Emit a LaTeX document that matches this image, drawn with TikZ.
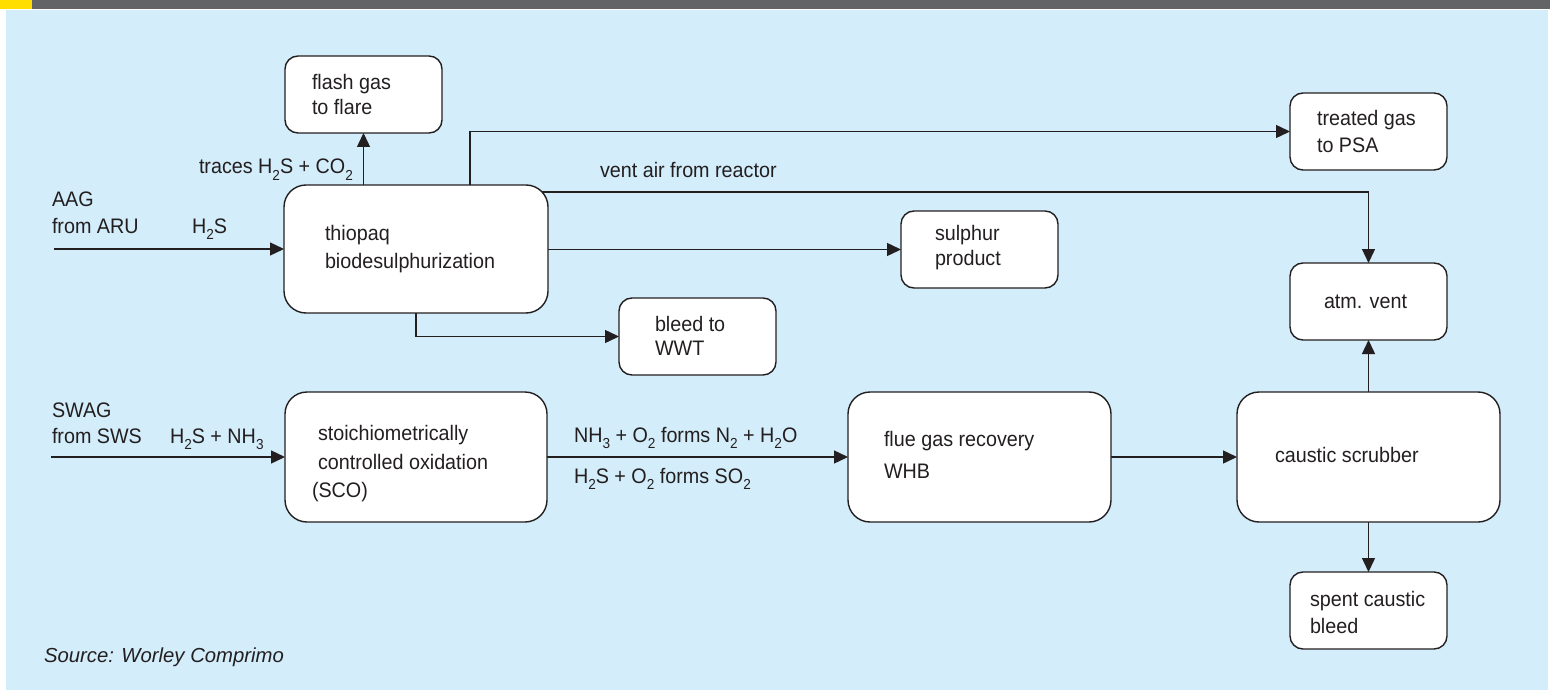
\documentclass[tikz,border=0pt]{standalone}
\usepackage{fontspec}
\setmainfont{Liberation Sans}[FakeStretch=0.94]
\newfontfamily\plainsans{Liberation Sans}
\usetikzlibrary{arrows.meta}
\definecolor{bgblue}{RGB}{211,237,250}
\definecolor{bargray}{RGB}{99,100,102}
\definecolor{baryellow}{RGB}{255,222,0}
\definecolor{ink}{RGB}{35,31,32}
\newcommand\sbs[1]{\raisebox{-6pt}{\fontsize{14.5}{14.5}\selectfont #1}}
\pgfdeclarelayer{bg}\pgfdeclarelayer{lines}\pgfsetlayers{bg,lines,main}
\tikzset{
 sbox/.style={draw=ink, fill=white, line width=1.4pt, rounded corners=13pt, minimum width=157pt, minimum height=77pt, inner sep=0pt, outer sep=0pt, anchor=north west},
 bbox/.style={sbox, rounded corners=22pt, minimum width=263pt, minimum height=130pt},
 txt/.style={anchor=base west, inner sep=0pt, outer sep=0pt, text=ink, font=\fontsize{21}{24}\selectfont},
 itxt/.style={txt, font=\plainsans\fontsize{20.3}{24}\selectfont\itshape},
 flow/.style={draw=ink, line width=1.4pt, -{Triangle[length=14pt,width=13pt]}},
}
\begin{document}
\begin{tikzpicture}[x=1pt,y=-1pt]
\useasboundingbox (0,0) rectangle (1550,690);
\begin{pgfonlayer}{bg}
\fill[white] (0,0) rectangle (1550,690);
\fill[bgblue] (6,10) rectangle (1548,690);
\fill[bargray] (0,0) rectangle (1550,9.5);
\fill[baryellow] (0,0) rectangle (32,9.5);
\end{pgfonlayer}

% boxes
\node[sbox] (flash) at (285,56) {};
\node[sbox] (treated) at (1290,93) {};
\node[sbox] (atm) at (1290,263) {};
\node[sbox] (sulphur) at (901,211) {};
\node[sbox] (bleed) at (619,298) {};
\node[sbox] (spent) at (1290,572) {};
\node[bbox, minimum width=264pt, minimum height=128pt] (thio) at (284,185) {};
\node[bbox, minimum width=262pt] (sco) at (285,392) {};
\node[bbox] (flue) at (848,392) {};
\node[bbox] (scrub) at (1237,392) {};

% free ends
\coordinate (aagstart) at (54,249);
\coordinate (swagstart) at (51,457);
\coordinate (tgx) at (470,185);
\coordinate (ventstart) at (530,192);
\coordinate (bleedx) at (416,313);

\begin{pgfonlayer}{lines}
\draw[flow] (aagstart) -- (thio.west);
\draw[flow] (thio.north -| flash.south) -- (flash.south);
\draw[flow] (tgx) |- (treated.west);
\draw[flow] (ventstart) -| (atm.north);
\draw[flow] (thio.east |- sulphur.west) -- (sulphur.west);
\draw[flow] (bleedx) |- (bleed.west);
\draw[flow] (swagstart) -- (sco.west);
\draw[flow] (sco.east) -- (flue.west);
\draw[flow] (flue.east) -- (scrub.west);
\draw[flow] (scrub.north) -- (atm.south);
\draw[flow] (scrub.south) -- (spent.north);
\end{pgfonlayer}

% texts
\node[txt] (t1) at (312,90) {flash gas};
\node[txt] (t2) at (312,115) {to flare};
\node[txt] (t3) at (1317,126) {treated gas};
\node[txt] (t4) at (1317,153) {to PSA};
\node[txt] (t5) at (199,174) {traces H\sbs{2}S + CO\sbs{2}};
\node[txt] (t6) at (600,177) {vent air from reactor};
\node[txt] (t7) at (52,206) {AAG};
\node[txt] (t8) at (52,233) {from ARU};
\node[txt] (t9) at (192,233) {H\sbs{2}S};
\node[txt] (t10) at (325,240) {thiopaq};
\node[txt] (t11) at (325,268) {biodesulphurization};
\node[txt] (t12) at (935,240) {sulphur};
\node[txt] (t13) at (935,265) {product};
\node[txt] (t14) at (655,331) {bleed to};
\node[txt] (t15) at (655,355) {WWT};
\node[txt] (t16) at (1324,308) {atm. vent};
\node[txt] (t17) at (52,417) {SWAG};
\node[txt] (t18) at (52,443) {from SWS};
\node[txt] (t19) at (170,443) {H\sbs{2}S + NH\sbs{3}};
\node[txt] (t20) at (318,440) {stoichiometrically};
\node[txt] (t21) at (318,469) {controlled oxidation};
\node[txt] (t22) at (312,497) {(SCO)};
\node[txt] (t23) at (574,442) {NH\sbs{3} + O\sbs{2} forms N\sbs{2} + H\sbs{2}O};
\node[txt] (t24) at (574,483) {H\sbs{2}S + O\sbs{2} forms SO\sbs{2}};
\node[txt] (t25) at (884,446) {flue gas recovery};
\node[txt] (t26) at (884,478) {WHB};
\node[txt] (t27) at (1275,462) {caustic scrubber};
\node[txt] (t28) at (1310,606) {spent caustic};
\node[txt] (t29) at (1310,633) {bleed};
\node[itxt] (t30) at (44,662) {Source: Worley Comprimo};
\end{tikzpicture}
\end{document}
